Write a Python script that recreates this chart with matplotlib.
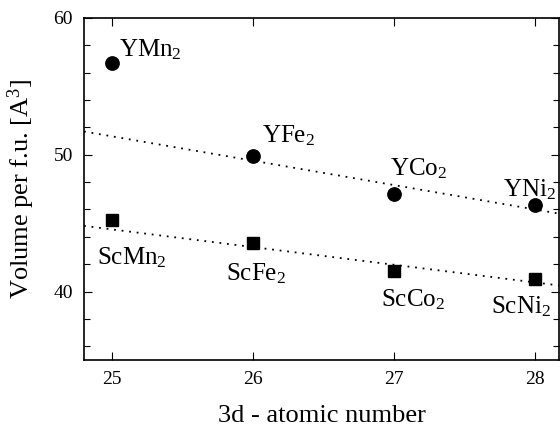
import numpy as np
import matplotlib
matplotlib.use("Agg")
import matplotlib.pyplot as plt
from matplotlib.ticker import MultipleLocator

plt.rcParams['font.family'] = ['Liberation Serif', 'DejaVu Serif']
plt.rcParams['mathtext.fontset'] = 'custom'
plt.rcParams['mathtext.rm'] = 'Liberation Serif'
plt.rcParams['mathtext.it'] = 'Liberation Serif'

# atomic number of the 3d element
z = [25, 26, 27, 28]
# Y compounds (circles)
y_vol = [56.7, 49.9, 47.1, 46.3]
y_names = [r'YMn$_2$', r'YFe$_2$', r'YCo$_2$', r'YNi$_2$']
# Sc compounds (squares)
sc_vol = [45.2, 43.55, 41.5, 40.95]
sc_names = [r'ScMn$_2$', r'ScFe$_2$', r'ScCo$_2$', r'ScNi$_2$']

# dotted trend lines, read at the x-axis limits
x_lim = [24.8, 28.17]
y_trend = [51.7, 45.7]
sc_trend = [44.8, 40.45]

# label anchors (left, baseline)
y_lab_x = [25.05, 26.06, 26.97, 27.77]
y_lab_y = [57.2, 50.9, 48.46, 46.99]
sc_lab_x = [24.89, 25.81, 26.91, 27.69]
sc_lab_y = [41.96, 40.79, 38.9, 38.4]

fig = plt.figure(figsize=(5.6, 4.33), dpi=100)
ax = fig.add_axes([0.15, 0.1686, 0.848, 0.79])

ax.plot(x_lim, y_trend, color='black', lw=1.3, ls=(0, (1, 3.2)))
ax.plot(x_lim, sc_trend, color='black', lw=1.3, ls=(0, (1, 3.2)))
ax.plot(z, y_vol, 'o', color='black', ms=9.6)
ax.plot(z, sc_vol, 's', color='black', ms=9)

for i in range(4):
    ax.text(y_lab_x[i], y_lab_y[i], y_names[i], fontsize=18, ha='left', va='baseline')
    ax.text(sc_lab_x[i], sc_lab_y[i], sc_names[i], fontsize=18, ha='left', va='baseline')

ax.set_xlim(x_lim)
ax.set_ylim(35, 60)
ax.xaxis.set_major_locator(MultipleLocator(1))
ax.yaxis.set_major_locator(MultipleLocator(10))
ax.yaxis.set_minor_locator(MultipleLocator(2))
ax.tick_params(which='both', direction='in', top=True, right=True, labelsize=14, width=0.8)
ax.tick_params(which='major', length=6, pad=8)
ax.tick_params(which='minor', length=4)
for s in ax.spines.values():
    s.set_linewidth(1.2)

ax.set_xlabel('3d - atomic number', fontsize=19, labelpad=12)
ax.set_ylabel(r'Volume per f.u. [A$^3$]', fontsize=19, labelpad=12)

fig.savefig('out.png', dpi=100)
